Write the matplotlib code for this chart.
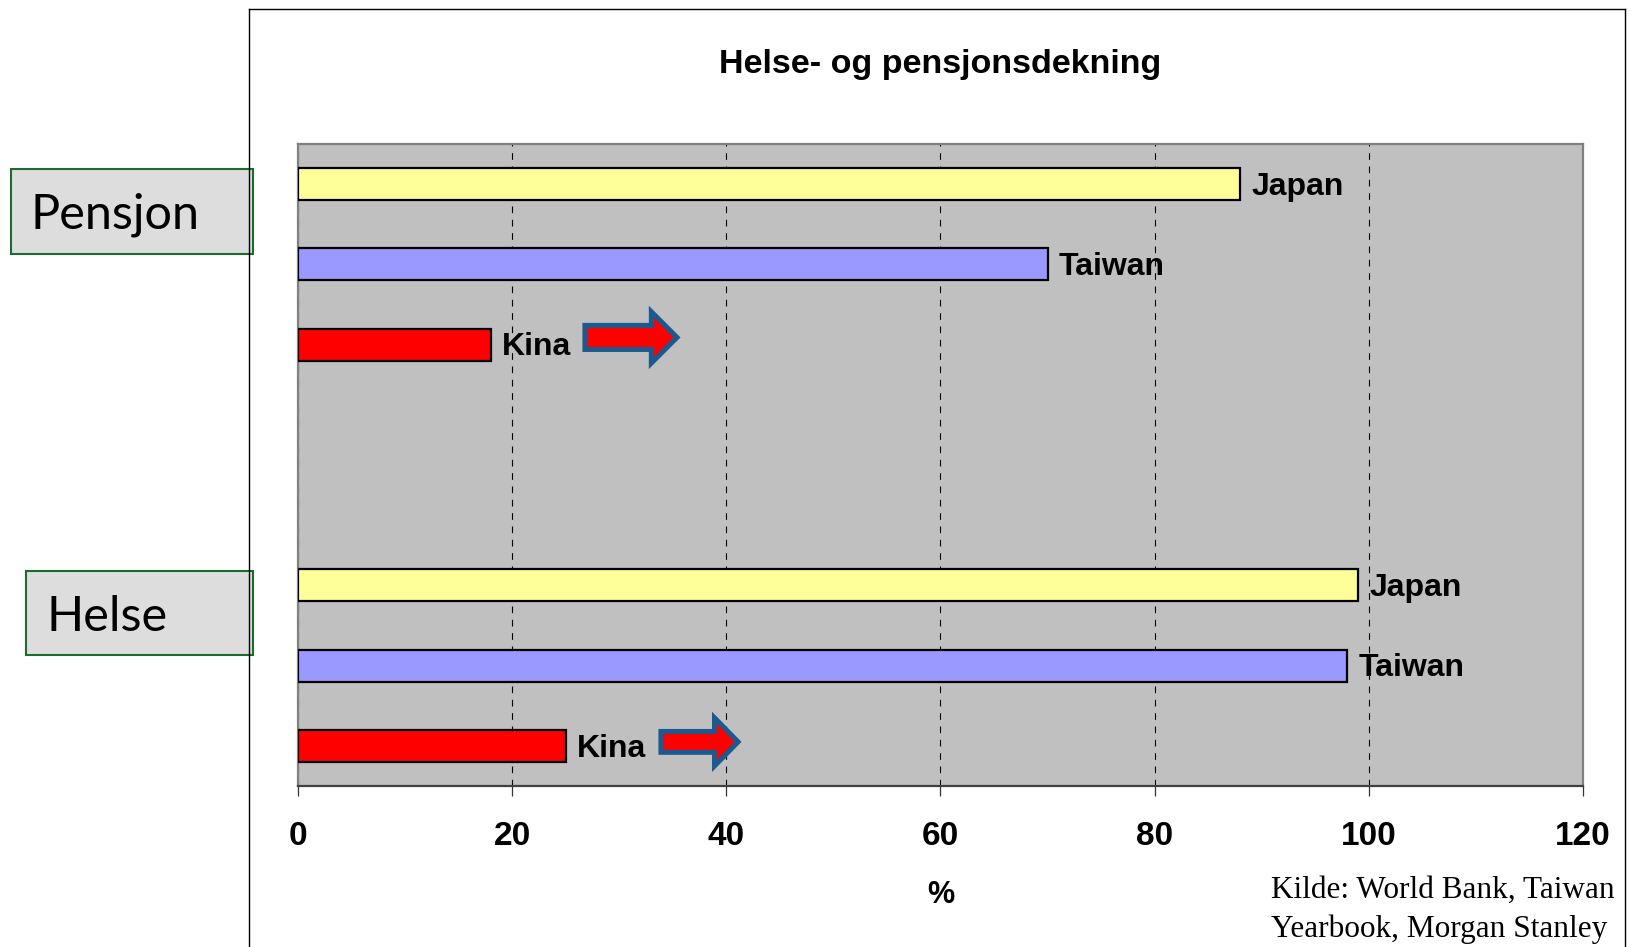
import matplotlib
matplotlib.use("Agg")
import matplotlib.pyplot as plt
import matplotlib.patches as mpatches
from matplotlib.lines import Line2D

# data
countries = ["Japan", "Taiwan", "Kina", "Japan", "Taiwan", "Kina"]
coverage = [88, 70, 18, 99, 98, 25]
slots = [0.5, 1.5, 2.5, 5.5, 6.5, 7.5]
bar_colors = ["#FFFF99", "#9999FF", "#FF0000", "#FFFF99", "#9999FF", "#FF0000"]
groups = ["Pensjon", "Helse"]
xticks = [0, 20, 40, 60, 80, 100, 120]

# arrows next to the Kina bars: (start, tip, head start, centre y)
arrows = [(26.8, 35.4, 33.0, 2.41), (33.9, 41.1, 38.9, 7.45)]

bold = ["Liberation Sans Narrow", "Liberation Sans", "DejaVu Sans"]

fig = plt.figure(figsize=(16.3, 9.47), dpi=100)
ax = fig.add_axes([0.1828, 0.1700, 0.7883, 0.6779])
ax.set_facecolor("#C0C0C0")

ax.barh(slots, coverage, height=0.4, color=bar_colors, edgecolor="black",
        linewidth=1.6, zorder=3)

for s, v, c in zip(slots, coverage, countries):
    ax.annotate(c, (v, s), xytext=(8, -2), textcoords="offset points",
                va="center", ha="left", fontsize=23, fontweight="bold",
                family=bold, zorder=4)

for x0, tip, hs, yc in arrows:
    shaft = 0.30 if yc < 5 else 0.26
    head = 0.64 if yc < 5 else 0.60
    arr = mpatches.FancyArrow(x0, yc, tip - x0, 0, width=shaft,
                              head_width=head, head_length=tip - hs,
                              length_includes_head=True, facecolor="#FF0000",
                              edgecolor="#1A5A8E", linewidth=3.6, zorder=4)
    ax.add_patch(arr)

ax.set_xlim(0, 120)
ax.set_ylim(8, 0)
ax.set_xticks(xticks)
ax.set_yticks([])
ax.grid(axis="x", color="black", linestyle=(0, (6, 6)), linewidth=0.8, zorder=1)
for lbl in ax.get_xticklabels():
    lbl.set_fontsize(24)
    lbl.set_fontweight("bold")
    lbl.set_family(bold)
ax.tick_params(axis="x", direction="out", length=7, width=0.9, pad=18,
               color="#333333")
for side in ["top", "right", "left"]:
    ax.spines[side].set_color("#808080")
    ax.spines[side].set_linewidth(1.6)
ax.spines["bottom"].set_color("#404040")
ax.spines["bottom"].set_linewidth(1.6)

# frame around the chart
fig.add_artist(Line2D([0.1528, 0.1528], [0.0, 0.9905], color="black", lw=1.0))
fig.add_artist(Line2D([0.1528, 0.9969], [0.9905, 0.9905], color="black", lw=1.0))
fig.add_artist(Line2D([0.9969, 0.9969], [0.0, 0.9905], color="black", lw=1.0))

fig.text(0.5767, 0.9320, "Helse- og pensjonsdekning", ha="center", va="center",
         fontsize=24.5, fontweight="bold", family=bold)
fig.text(0.5773, 0.055, "%", ha="center", va="center", fontsize=22,
         fontweight="bold", family=bold)

# group boxes on the left
boxes = [(0.00675, 0.7318, 0.1485, 0.0898, 0.0186, 0.7730),
         (0.01595, 0.3083, 0.1393, 0.0887, 0.0284, 0.3487)]
for name, (bx, by, bw, bh, tx, ty) in zip(groups, boxes):
    fig.add_artist(mpatches.Rectangle((bx, by), bw, bh, transform=fig.transFigure,
                                      facecolor="#DDDDDD", edgecolor="#1E6B30",
                                      linewidth=1.5))
    fig.text(tx, ty, name, ha="left", va="center", fontsize=35, family="Lato")

fig.text(0.7798, 0.0517, "Kilde: World Bank, Taiwan", ha="left", va="baseline",
         fontsize=22.5, family="Liberation Serif")
fig.text(0.7798, 0.0106, "Yearbook, Morgan Stanley", ha="left", va="baseline",
         fontsize=22.5, family="Liberation Serif")

fig.savefig("out.png", dpi=100)
